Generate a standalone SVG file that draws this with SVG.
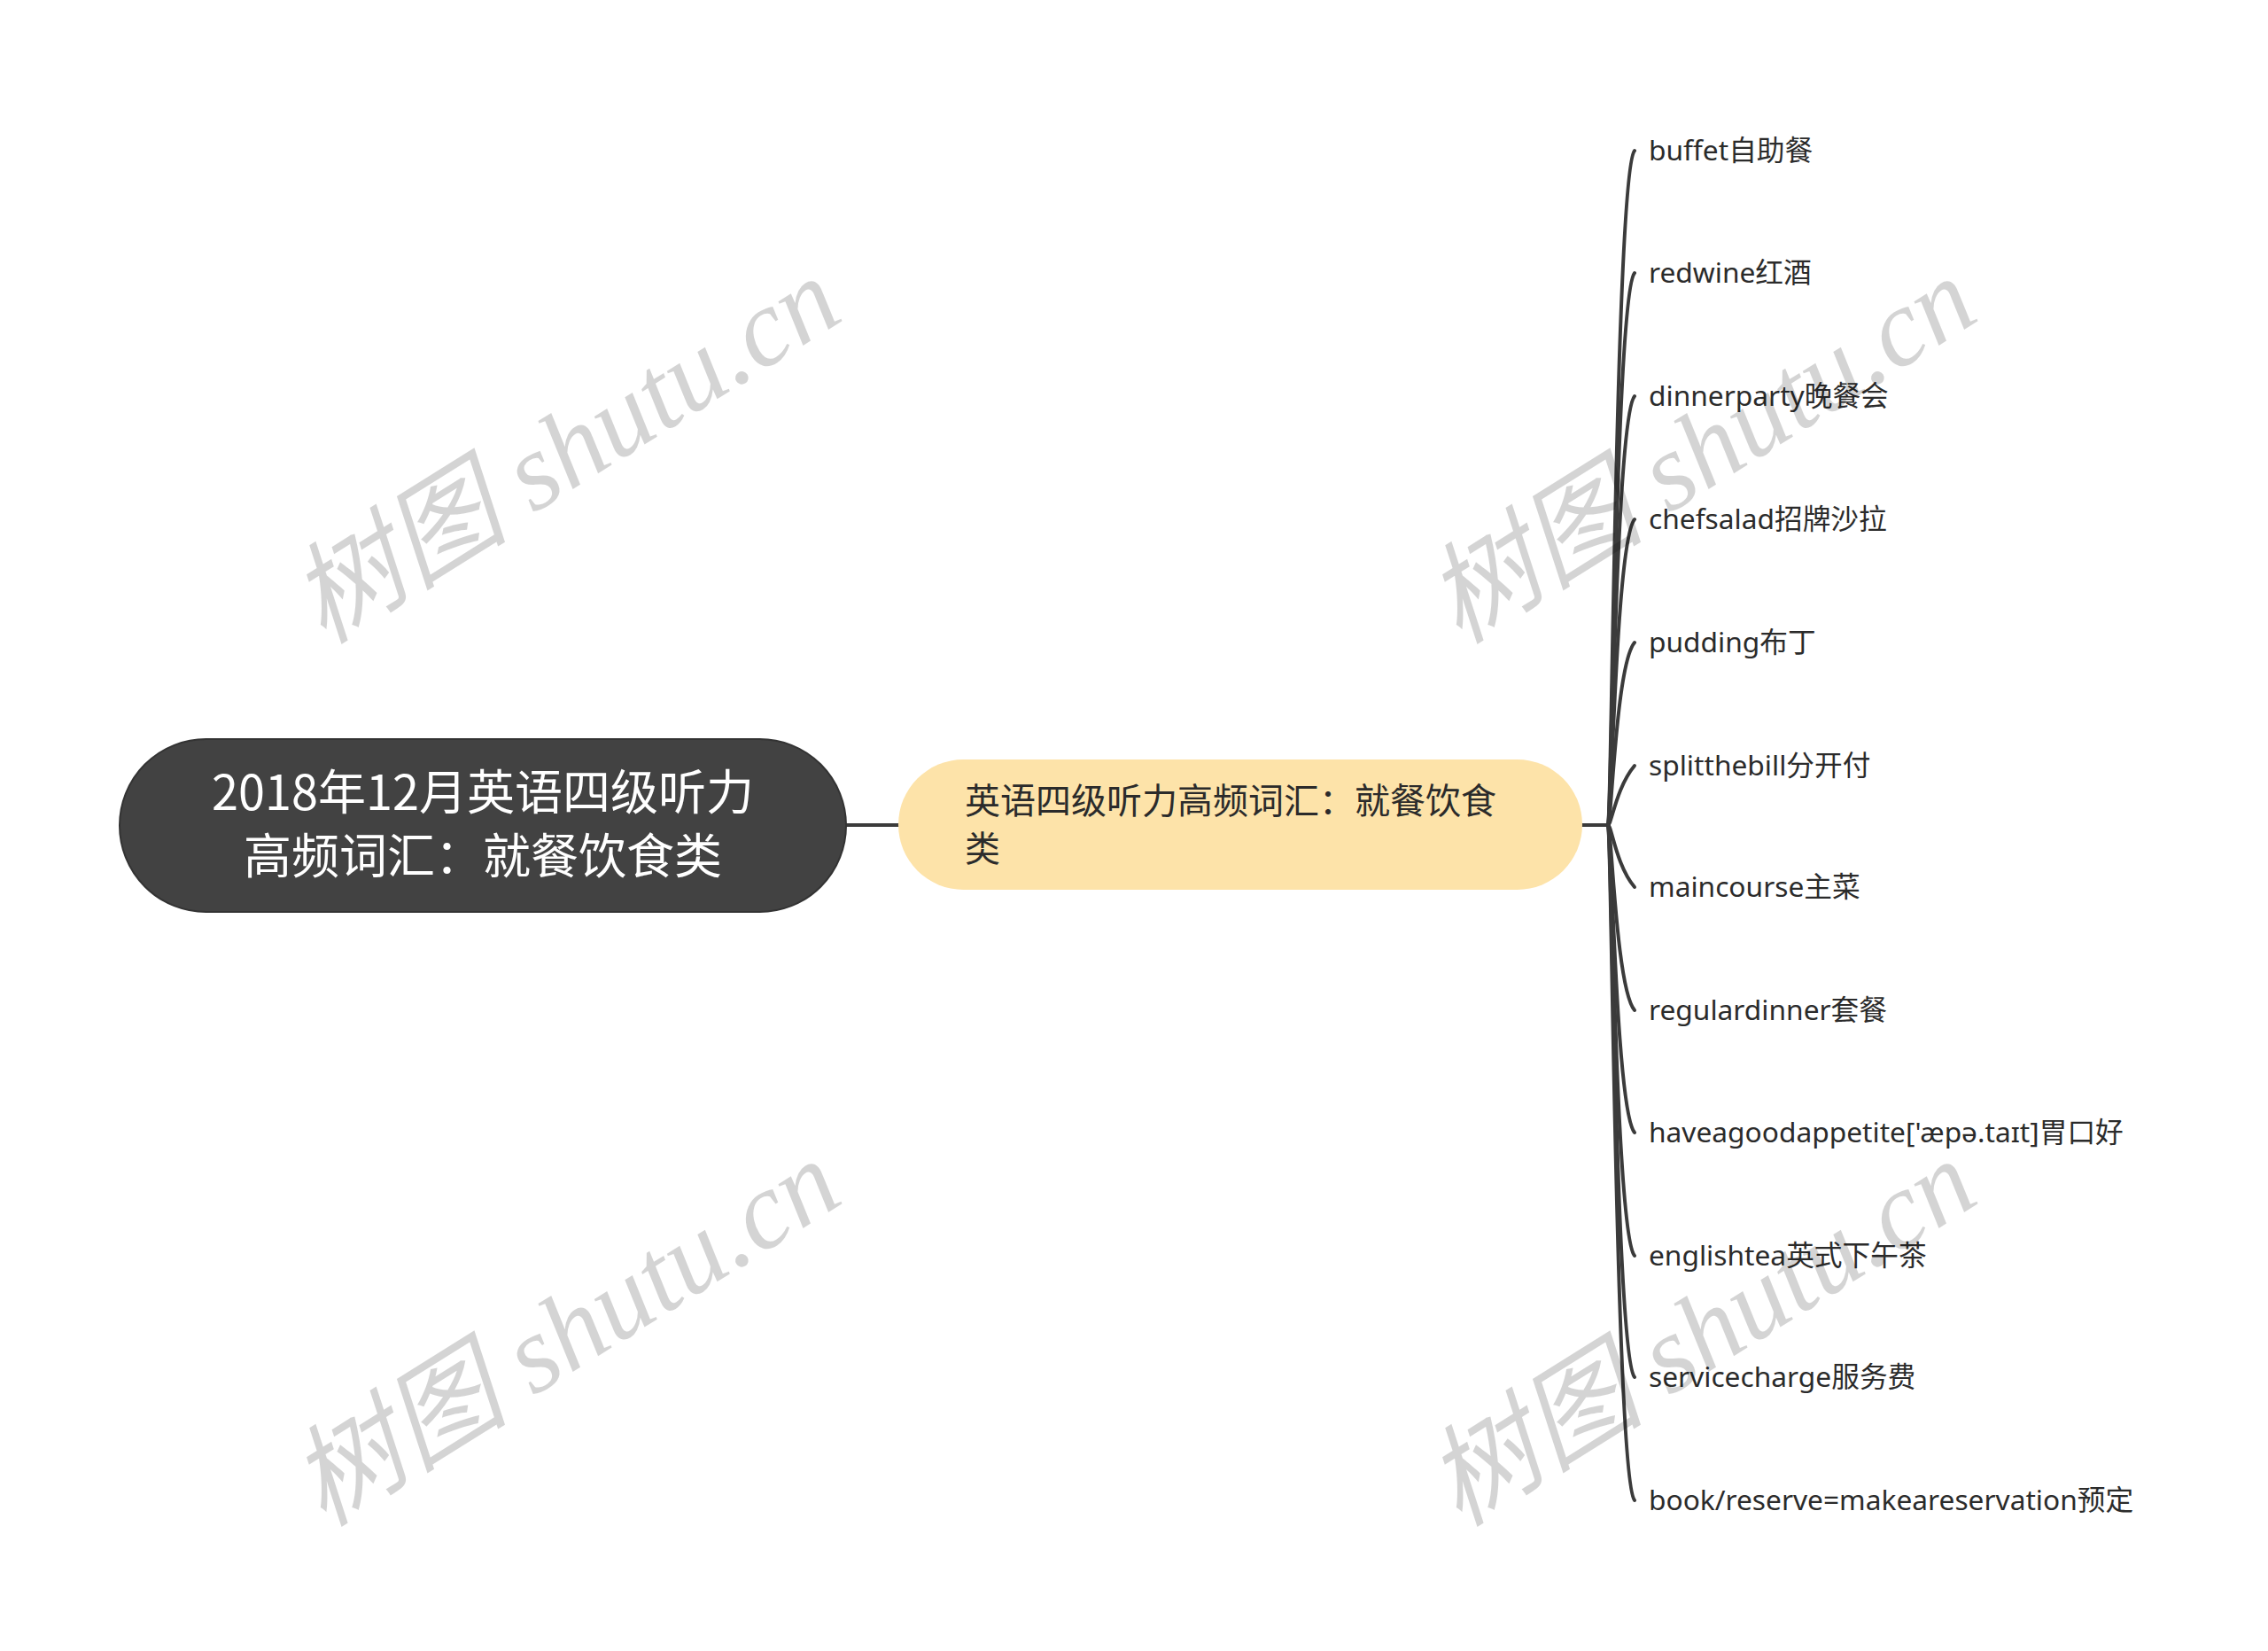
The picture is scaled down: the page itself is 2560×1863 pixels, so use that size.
<svg xmlns="http://www.w3.org/2000/svg" width="2560" height="1863" viewBox="0 0 2560 1863">
<style>
.conn{fill:none;stroke:#3b3b3b;stroke-width:4;stroke-linecap:round}
.leaf{font-family:"Noto Sans","Noto Sans CJK SC",sans-serif;font-size:31.7px;fill:#2b2b2b}
.root-t{font-family:"Noto Sans CJK SC","Noto Sans",sans-serif;font-size:54px;fill:#ffffff;text-anchor:middle}
.mid-t{font-family:"Noto Sans CJK SC","Noto Sans",sans-serif;font-size:40px;fill:#2b2b2b}
.wm{font-family:"Liberation Serif","Noto Sans CJK SC",serif;font-style:italic;font-size:124px;fill:#000;fill-opacity:0.17}
</style>
<rect width="2560" height="1863" fill="#ffffff"/>
<g id="connectors">
<line class="conn" x1="955" y1="931" x2="1014" y2="931"/>
<line class="conn" x1="1786" y1="931" x2="1815" y2="931"/>
<path class="conn" d="M1815 931 C1819 931 1824 195 1845 170"/>
<path class="conn" d="M1815 931 C1819 931 1824 333 1845 308"/>
<path class="conn" d="M1815 931 C1819 931 1824 472 1845 447"/>
<path class="conn" d="M1815 931 C1819 931 1824 611 1845 586"/>
<path class="conn" d="M1815 931 C1819 931 1824 750 1845 725"/>
<path class="conn" d="M1815 931 C1819 931 1824 889 1845 864"/>
<path class="conn" d="M1815 931 C1819 931 1824 976 1845 1001"/>
<path class="conn" d="M1815 931 C1819 931 1824 1115 1845 1140"/>
<path class="conn" d="M1815 931 C1819 931 1824 1253 1845 1278"/>
<path class="conn" d="M1815 931 C1819 931 1824 1392 1845 1417"/>
<path class="conn" d="M1815 931 C1819 931 1824 1529 1845 1554"/>
<path class="conn" d="M1815 931 C1819 931 1824 1668 1845 1693"/>
</g>
<g id="root">
<rect x="135" y="834" width="820" height="195" rx="97.5" fill="#424242" stroke="#333333" stroke-width="2"/>
<text class="root-t" x="545" y="914">2018年12月英语四级听力</text>
<text class="root-t" x="545" y="986">高频词汇：就餐饮食类</text>
</g>
<g id="mid">
<rect x="1014" y="857" width="772" height="147" rx="73.5" fill="#fde3a9"/>
<text class="mid-t" x="1089" y="918">英语四级听力高频词汇：就餐饮食</text>
<text class="mid-t" x="1089" y="972">类</text>
</g>
<g id="leaf1"><text class="leaf" x="1861" y="181">buffet自助餐</text></g>
<g id="leaf2"><text class="leaf" x="1861" y="319">redwine红酒</text></g>
<g id="leaf3"><text class="leaf" x="1861" y="458">dinnerparty晚餐会</text></g>
<g id="leaf4"><text class="leaf" x="1861" y="597">chefsalad招牌沙拉</text></g>
<g id="leaf5"><text class="leaf" x="1861" y="736">pudding布丁</text></g>
<g id="leaf6"><text class="leaf" x="1861" y="875">splitthebill分开付</text></g>
<g id="leaf7"><text class="leaf" x="1861" y="1012">maincourse主菜</text></g>
<g id="leaf8"><text class="leaf" x="1861" y="1151">regulardinner套餐</text></g>
<g id="leaf9"><text class="leaf" x="1861" y="1289">haveagoodappetite['æpə.taɪt]胃口好</text></g>
<g id="leaf10"><text class="leaf" x="1861" y="1428">englishtea英式下午茶</text></g>
<g id="leaf11"><text class="leaf" x="1861" y="1565">servicecharge服务费</text></g>
<g id="leaf12"><text class="leaf" x="1861" y="1704">book/reserve=makeareservation预定</text></g>
<g id="watermarks">
<text class="wm" text-anchor="middle" transform="translate(638 508) rotate(-32)" y="42">树图 shutu.cn</text>
<text class="wm" text-anchor="middle" transform="translate(1920 508) rotate(-32)" y="42">树图 shutu.cn</text>
<text class="wm" text-anchor="middle" transform="translate(638 1504) rotate(-32)" y="42">树图 shutu.cn</text>
<text class="wm" text-anchor="middle" transform="translate(1920 1504) rotate(-32)" y="42">树图 shutu.cn</text>
</g>
</svg>
